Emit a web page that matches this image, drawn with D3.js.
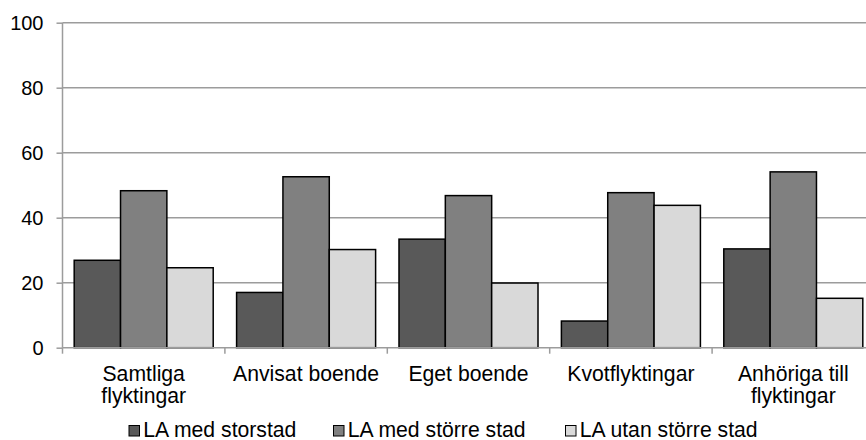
<!DOCTYPE html>
<html>
<head>
<meta charset="utf-8">
<script src="https://cdn.jsdelivr.net/npm/d3@7"></script>
<style>
html,body{margin:0;padding:0;background:#fff;}
svg{display:block;font-family:"Liberation Sans",Arial,sans-serif;}
</style>
</head>
<body>
<svg id="chart" width="866" height="440"></svg>
<script>
const categories = ["Samtliga flyktingar", "Anvisat boende", "Eget boende", "Kvotflyktingar", "Anhöriga till flyktingar"];
const seriesNames = ["LA med storstad", "LA med större stad", "LA utan större stad"];
const storstad = [26.9, 17.0, 33.4, 8.2, 30.4];
const storreStad = [48.3, 52.6, 46.8, 47.7, 54.1];
const utanStorreStad = [24.6, 30.2, 19.9, 43.8, 15.2];
const yTicks = [0, 20, 40, 60, 80, 100];
const colors = ["#595959", "#808080", "#d9d9d9"];

(function () {
const seriesValues = [storstad, storreStad, utanStorreStad];
const data = categories.map((c, i) => ({cat: c, vals: seriesNames.map((s, j) => ({s, v: seriesValues[j][i], j}))}));

const svg = d3.select("#chart");
const mLeft = 62.5, mRight = 874.5, mTop = 22.7, mBottom = 347.7;
const fs = 21.2, fsTick = 20;

const y = d3.scaleLinear().domain([0, 100]).range([mBottom, mTop]);
const x0 = d3.scaleBand().domain(categories).range([mLeft, mRight]).padding(0);
const off = x0.bandwidth() * 0.072;
const x1 = d3.scaleBand().domain(seriesNames).range([off, x0.bandwidth() - off]).padding(0);

// gridlines
svg.append("g").selectAll("line").data(yTicks.filter(t => t > 0)).join("line")
  .attr("x1", mLeft).attr("x2", mRight)
  .attr("y1", d => y(d)).attr("y2", d => y(d))
  .attr("stroke", "#9c9c9c").attr("stroke-width", 1.5);

// y axis
const yAxis = d3.axisLeft(y).tickValues(yTicks).tickSize(6).tickPadding(13).tickFormat(d3.format("d"));
const gy = svg.append("g").attr("transform", `translate(${mLeft},0)`).call(yAxis);
gy.select(".domain").attr("stroke", "#9c9c9c").attr("stroke-width", 1.5).attr("d", `M0,${mBottom}V${mTop}`);
gy.selectAll(".tick line").attr("stroke", "#9c9c9c").attr("stroke-width", 1.5);
gy.selectAll(".tick text").attr("font-size", fsTick).attr("fill", "#000").attr("font-family", "Liberation Sans, Arial, sans-serif");

// bars
const groups = svg.append("g").selectAll("g").data(data).join("g")
  .attr("transform", d => `translate(${x0(d.cat)},0)`);
groups.selectAll("rect").data(d => d.vals).join("rect")
  .attr("x", d => x1(d.s))
  .attr("width", x1.bandwidth())
  .attr("y", d => y(d.v))
  .attr("height", d => y(0) - y(d.v))
  .attr("fill", d => colors[d.j])
  .attr("stroke", "#000").attr("stroke-width", 1.5);

// x axis
const gx = svg.append("g").attr("transform", `translate(0,${mBottom})`);
gx.append("line").attr("x1", mLeft).attr("x2", mRight).attr("y1", 0).attr("y2", 0)
  .attr("stroke", "#9c9c9c").attr("stroke-width", 1.5);
const bounds = categories.map(c => x0(c)).concat([mRight]);
gx.selectAll("line.tk").data(bounds).join("line").attr("class", "tk")
  .attr("x1", d => d).attr("x2", d => d).attr("y1", 0).attr("y2", 6)
  .attr("stroke", "#9c9c9c").attr("stroke-width", 1.5);

// category labels with wrapping
function wrapLines(text, width) {
  const words = text.split(" ");
  const lines = [];
  let cur = "";
  const meas = svg.append("text").attr("font-size", fs).attr("visibility", "hidden");
  words.forEach(w => {
    const test = cur ? cur + " " + w : w;
    meas.text(test);
    if (meas.node().getComputedTextLength() > width && cur) {
      lines.push(cur); cur = w;
    } else cur = test;
  });
  if (cur) lines.push(cur);
  meas.remove();
  return lines;
}
categories.forEach(c => {
  const lines = wrapLines(c, x0.bandwidth() - 2);
  const t = svg.append("text").attr("font-size", fs).attr("fill", "#000").attr("text-anchor", "middle");
  lines.forEach((ln, i) => {
    t.append("tspan").attr("x", x0(c) + x0.bandwidth() / 2).attr("y", 381 + i * 22).text(ln);
  });
});

// legend
const legendX = [128.5, 333, 565];
const lg = svg.append("g").selectAll("g").data(seriesNames).join("g")
  .attr("transform", (d, i) => `translate(${legendX[i]},0)`);
lg.append("rect").attr("x", 0.5).attr("y", 425.5).attr("width", 10.5).attr("height", 10.5)
  .attr("fill", (d, i) => colors[i]).attr("stroke", "#000").attr("stroke-width", 1);
lg.append("text").attr("x", 14.8).attr("y", 436.5).attr("font-size", fs).attr("fill", "#000").text(d => d);
})();
</script>
</body>
</html>
